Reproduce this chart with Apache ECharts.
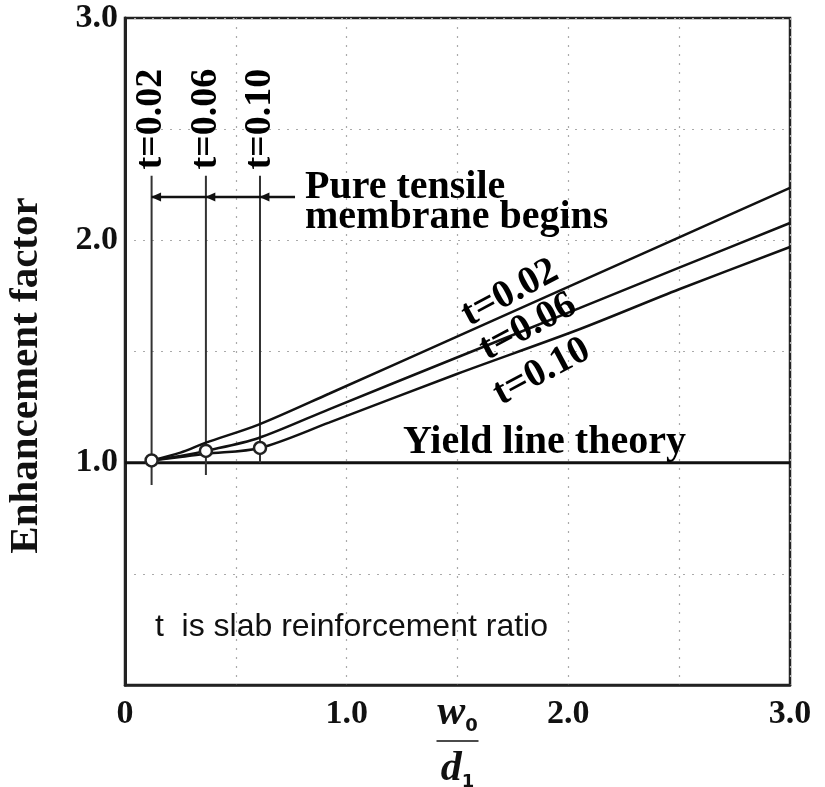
<!DOCTYPE html>
<html>
<head>
<meta charset="utf-8">
<script src="https://cdn.jsdelivr.net/npm/echarts@6/dist/echarts.min.js"></script>
<style>
  html, body { margin: 0; padding: 0; background: #fff; }
  #chart { width: 825px; height: 787px; }
</style>
</head>
<body>
<div id="chart"></div>
<script>
// values (x = w0/d1, y = enhancement factor)
var ratioNames = ['t=0.02', 't=0.06', 't=0.10']
var curve002 = [[0.12, 1.01], [0.25, 1.045], [0.365, 1.09], [0.6, 1.17], [0.92, 1.31], [1.5, 1.568], [2.05, 1.813], [2.5, 2.013], [3.0, 2.236]]
var curve006 = [[0.12, 1.01], [0.25, 1.03], [0.365, 1.053], [0.6, 1.11], [0.92, 1.24], [1.5, 1.474], [2.05, 1.695], [2.5, 1.877], [3.0, 2.078]]
var curve010 = [[0.12, 1.01], [0.25, 1.025], [0.365, 1.04], [0.609, 1.066], [0.92, 1.18], [1.5, 1.40], [2.05, 1.60], [2.5, 1.78], [3.0, 1.97]]
var beginX = [0.12, 0.365, 0.609]       // pure tensile membrane begins
var beginY = [1.01, 1.053, 1.066]
var guideTop = 2.29
var guideBottom = [0.90, 0.945, 1.0]
var arrowY = 2.195
var arrowEnd = 0.767
var yieldLine = [[0, 1], [3, 1]]
var tickValues = [0, 1, 2, 3]
var xTickLabels = ['0', '1.0', '2.0', '3.0']
var yTickLabels = ['', '1.0', '2.0', '3.0']

var serif = "'Liberation Serif', 'Times New Roman', serif"
var ink = '#111'

var myChart = echarts.init(document.getElementById('chart'))

function tickText(labels) {
  return function(v) {
    var i = tickValues.indexOf(v)
    return i < 0 ? '' : labels[i]
  }
}

function textItem(x, y, text, label) {
  return { value: [x, y], name: text, label: label }
}

var curves = [curve002, curve006, curve010]
var series = []

series.push({
  name: 'yield',
  type: 'line',
  data: yieldLine,
  symbol: 'none',
  lineStyle: { color: ink, width: 3 },
  z: 3
})

curves.forEach(function(c, i) {
  series.push({
    name: ratioNames[i],
    type: 'line',
    data: c,
    symbol: 'none',
    smooth: 0.3,
    lineStyle: { color: ink, width: 2.5 },
    z: 4
  })
})

beginX.forEach(function(x, i) {
  series.push({
    name: 'guide' + i,
    type: 'line',
    data: [[x, guideBottom[i]], [x, guideTop]],
    symbol: 'none',
    lineStyle: { color: '#333', width: 2 },
    z: 3
  })
})

series.push({
  name: 'arrow',
  type: 'line',
  data: [[beginX[0], arrowY], [arrowEnd, arrowY]],
  symbol: 'none',
  lineStyle: { color: ink, width: 2.5 },
  z: 4
})

series.push({
  name: 'arrowheads',
  type: 'scatter',
  data: beginX.map(function(x) { return [x + 0.02, arrowY] }),
  symbol: 'triangle',
  symbolSize: [9, 10],
  symbolRotate: 90,
  itemStyle: { color: ink, opacity: 1 },
  z: 5
})

series.push({
  name: 'begin',
  type: 'scatter',
  data: beginX.map(function(x, i) { return [x, beginY[i]] }),
  symbol: 'circle',
  symbolSize: 12,
  itemStyle: { color: '#fff', borderColor: '#222', borderWidth: 2.5, opacity: 1 },
  z: 6
})

var big = { show: true, position: 'inside', color: '#000', fontFamily: serif, fontWeight: 'bold', formatter: '{b}' }
var labelData = [
  textItem(0.12, 2.545, ratioNames[0], Object.assign({}, big, { fontSize: 38, rotate: 90 })),
  textItem(0.365, 2.545, ratioNames[1], Object.assign({}, big, { fontSize: 38, rotate: 90 })),
  textItem(0.609, 2.545, ratioNames[2], Object.assign({}, big, { fontSize: 38, rotate: 90 })),
  textItem(1.737, 1.763, ratioNames[0], Object.assign({}, big, { fontSize: 39, rotate: 28 })),
  textItem(1.818, 1.61, ratioNames[1], Object.assign({}, big, { fontSize: 39, rotate: 28 })),
  textItem(1.88, 1.408, ratioNames[2], Object.assign({}, big, { fontSize: 39, rotate: 28 })),
  textItem(0.812, 2.168, 'Pure tensile\nmembrane begins', Object.assign({}, big, { fontSize: 40, lineHeight: 30, align: 'left' })),
  textItem(1.254, 1.09, 'Yield line theory', Object.assign({}, big, { fontSize: 40, align: 'left' })),
  textItem(0.135, 0.262, 't  is slab reinforcement ratio', {
    show: true, position: 'inside', align: 'left', formatter: '{b}',
    color: '#111', fontFamily: "'Liberation Sans', Arial, sans-serif", fontSize: 32
  })
]

series.push({
  name: 'labels',
  type: 'scatter',
  data: labelData,
  symbolSize: 1,
  itemStyle: { color: 'rgba(0,0,0,0)', opacity: 1 },
  silent: true,
  z: 7
})

var option = {
  backgroundColor: '#fff',
  animation: false,
  grid: {
    left: 125,
    right: 35,
    top: 18,
    bottom: 102,
    containLabel: false,
    outerBoundsMode: 'none',
    show: true,
    borderColor: '#222',
    borderWidth: 2.5
  },
  xAxis: {
    type: 'value',
    min: 0,
    max: 3,
    interval: 0.5,
    axisLine: { show: true, lineStyle: { color: '#222', width: 2.5 } },
    axisTick: { show: false },
    splitLine: { show: true, lineStyle: { color: '#aaa', width: 1.2, type: [2, 7] } },
    axisLabel: {
      formatter: tickText(xTickLabels),
      margin: 12,
      color: '#111',
      fontFamily: serif,
      fontWeight: 'bold',
      fontSize: 34,
      showMinLabel: true,
      showMaxLabel: true
    },
    name: '{w|w}{s|0}\n{bar|}\n{w|d}{s|1}',
    nameLocation: 'middle',
    nameGap: 6,
    nameMoveOverlap: false,
    nameTextStyle: {
      align: 'center',
      verticalAlign: 'top',
      rich: {
        w: { fontFamily: serif, fontStyle: 'italic', fontWeight: 'bold', fontSize: 42, color: '#111', lineHeight: 44 },
        s: { fontFamily: "'DejaVu Sans', sans-serif", fontWeight: 'bold', fontSize: 18, color: '#111', verticalAlign: 'bottom', lineHeight: 44 },
        bar: { width: 42, height: 0, borderWidth: 1.5, borderColor: '#111', lineHeight: 12 }
      }
    }
  },
  yAxis: {
    type: 'value',
    min: 0,
    max: 3,
    interval: 0.5,
    axisLine: { show: true, lineStyle: { color: '#222', width: 3 } },
    axisTick: { show: false },
    splitLine: { show: true, lineStyle: { color: '#aaa', width: 1.2, type: [2, 7] } },
    axisLabel: {
      formatter: tickText(yTickLabels),
      margin: 7,
      color: '#111',
      fontFamily: serif,
      fontWeight: 'bold',
      fontSize: 34
    },
    name: 'Enhancement factor',
    nameLocation: 'middle',
    nameGap: 78,
    nameMoveOverlap: false,
    nameTextStyle: {
      color: '#111',
      fontFamily: serif,
      fontWeight: 'bold',
      fontSize: 41,
      padding: [0, 48, 0, 0]
    }
  },
  series: series
}

myChart.setOption(option)
</script>
</body>
</html>
